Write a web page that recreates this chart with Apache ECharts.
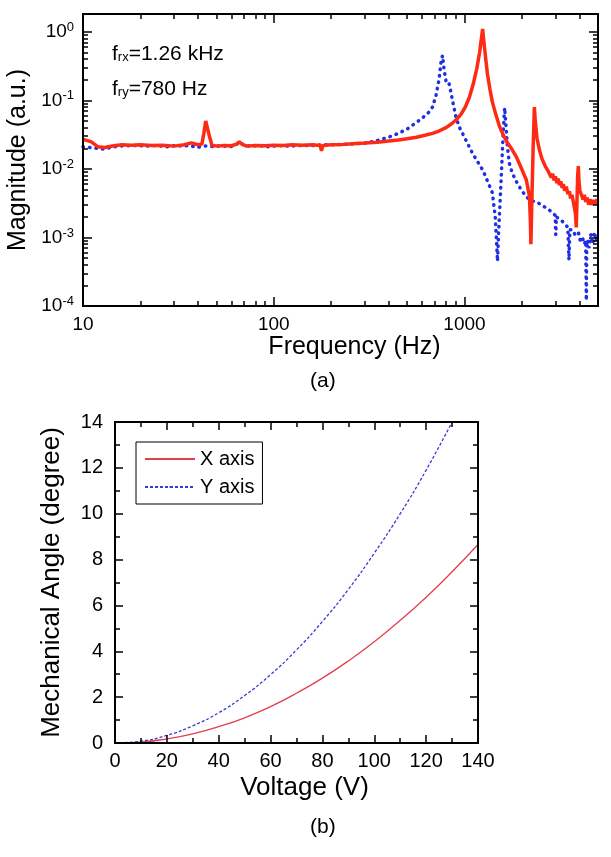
<!DOCTYPE html>
<html>
<head>
<meta charset="utf-8">
<script src="https://cdn.jsdelivr.net/npm/echarts@6/dist/echarts.min.js"></script>
<style>
html, body { margin: 0; padding: 0; background: #fff; }
</style>
</head>
<body>
<div id="chart" style="position:absolute;left:0;top:0;width:611px;height:857px"></div>
<div id="frame" style="position:absolute;left:0;top:0;width:611px;height:857px;pointer-events:none"></div>
<script>
// (a) frequency response, x mode (red) and y mode (blue)
var redFreq = [10, 11, 12, 13, 14.5, 16, 18, 20, 23, 26, 30, 34, 37, 40, 42, 43, 44, 45, 46, 47.5, 51, 55, 60, 64, 66, 68, 72, 80, 90, 100,
    112, 125, 140, 160, 175, 178, 181, 200, 230, 260, 300, 350, 400, 450, 500, 560, 620, 680, 740, 800, 860, 910, 960, 1010, 1060,
    1110, 1160, 1200, 1230, 1245, 1262, 1290, 1320, 1360, 1400, 1460, 1525, 1600, 1680, 1780, 1870, 1980, 2110, 2190, 2215, 2230,
    2250, 2290, 2325, 2350, 2400, 2470, 2550, 2650, 2750, 2800, 2850, 2900, 2950, 3000, 3050, 3100, 3150, 3200, 3250, 3300, 3350,
    3420, 3480, 3550, 3600, 3660, 3720, 3770, 3820, 3855, 3885, 3920, 3953, 3985, 4030, 4100, 4180, 4250, 4320, 4400, 4480, 4550,
    4650, 4750, 4850, 4950, 5000];
var redMag = [0.027, 0.025, 0.021, 0.0205, 0.0218, 0.0225, 0.0222, 0.0225, 0.022, 0.0222, 0.0215, 0.0225, 0.024, 0.0225, 0.023, 0.033, 0.05, 0.047, 0.03, 0.022, 0.0215, 0.022, 0.0218, 0.023, 0.025, 0.023, 0.0215, 0.022, 0.0218, 0.0222,
    0.0219, 0.0225, 0.0222, 0.0225, 0.022, 0.0183, 0.022, 0.0225, 0.0228, 0.0232, 0.0238, 0.0245, 0.0255, 0.0265, 0.0275, 0.029, 0.031, 0.033, 0.036, 0.04, 0.046, 0.053, 0.063, 0.08, 0.11,
    0.17, 0.29, 0.5, 0.85, 1.1, 0.75, 0.42, 0.24, 0.145, 0.095, 0.062, 0.042, 0.031, 0.024, 0.019, 0.015, 0.0105, 0.0069, 0.004, 0.0018, 0.0008,
    0.0025, 0.02, 0.08, 0.05, 0.028, 0.019, 0.014, 0.011, 0.0092, 0.0095, 0.0075, 0.0085, 0.0068, 0.0078, 0.0062, 0.0072, 0.0058, 0.0066, 0.0053, 0.006, 0.0048,
    0.0055, 0.0043, 0.0047, 0.0037, 0.0042, 0.0033, 0.0034, 0.0022, 0.0014, 0.003, 0.008, 0.011, 0.0065, 0.0048, 0.0042, 0.0036, 0.0042, 0.0033, 0.0038, 0.003, 0.0036,
    0.003, 0.0035, 0.0031, 0.0036, 0.0034];

var blueFreq = [10, 12.7, 15.3, 18.3, 21.6, 24.5, 27.5, 30.5, 33.5, 36.5, 39.5, 42.5, 45.5, 49, 53, 58, 62, 66, 70, 76, 82, 88, 95, 105, 120,
    140, 160, 180, 200, 250, 300, 350, 400, 450, 500, 550, 600, 650, 680, 710, 735, 755, 768, 782, 800, 815, 825, 845, 865, 905,
    950, 1000, 1100, 1250, 1400, 1450, 1475, 1490, 1510, 1560, 1600, 1625, 1650, 1680, 1720, 1780, 1900, 2000, 2110, 2250, 2400,
    2550, 2700, 2890, 2990, 3010, 3030, 3200, 3350, 3480, 3530, 3570, 3670, 3800, 3950, 4050, 4150, 4250, 4320, 4340, 4355, 4372,
    4420, 4500, 4600, 4700, 4800, 4900, 5000];
var blueMag = [0.021, 0.0195, 0.0215, 0.022, 0.0215, 0.022, 0.021, 0.022, 0.0215, 0.022, 0.0205, 0.0215, 0.0215, 0.021, 0.022, 0.021, 0.0215, 0.0245, 0.022, 0.0215, 0.022, 0.0215, 0.021, 0.022, 0.0215,
    0.022, 0.022, 0.0225, 0.0225, 0.023, 0.0237, 0.026, 0.029, 0.033, 0.038, 0.046, 0.055, 0.067, 0.08, 0.12, 0.2, 0.38, 0.45, 0.28, 0.19, 0.2, 0.19, 0.14, 0.1, 0.055,
    0.038, 0.029, 0.017, 0.0095, 0.0045, 0.002, 0.0008, 0.00045, 0.0012, 0.008, 0.04, 0.078, 0.042, 0.021, 0.012, 0.0087, 0.006, 0.0048, 0.0039, 0.0034, 0.0033,
    0.0029, 0.0027, 0.0023, 0.0021, 0.0011, 0.002, 0.0018, 0.0016, 0.0014, 0.00047, 0.0013, 0.0013, 0.0011, 0.0012, 0.0009, 0.001, 0.0008, 0.0009, 0.00025, 0.00012, 0.0006,
    0.0009, 0.0007, 0.0011, 0.0008, 0.0012, 0.0009, 0.0011];

// (b) mechanical angle vs voltage
var voltage = [0, 10, 20, 30, 40, 50, 60, 70, 80, 90, 100, 110, 120, 130, 140];
var angleX = [0, 0.04, 0.18, 0.4, 0.71, 1.1, 1.59, 2.17, 2.83, 3.58, 4.42, 5.35, 6.36, 7.47, 8.66];
var angleY = [0, 0.08, 0.33, 0.75, 1.32, 2.07, 2.98, 4.06, 5.3, 6.7, 8.28, 10.0, 11.9, 14.0];

// tick positions (the ones on the box edges are left out, the axis line is there)
var freqMajor = [100, 1000];
var freqMinor = [20, 30, 40, 50, 60, 70, 80, 90, 200, 300, 400, 500, 600, 700, 800, 900, 2000, 3000, 4000];
var magMajor = [1e-3, 1e-2, 1e-1, 1];
var magMinor = [2e-4, 3e-4, 4e-4, 5e-4, 6e-4, 7e-4, 8e-4, 9e-4, 2e-3, 3e-3, 4e-3, 5e-3, 6e-3, 7e-3, 8e-3, 9e-3,
    0.02, 0.03, 0.04, 0.05, 0.06, 0.07, 0.08, 0.09, 0.2, 0.3, 0.4, 0.5, 0.6, 0.7, 0.8, 0.9];

// axis extents in decades
var LX_MIN = 1, LX_MAX = 3.7, LY_MIN = -4, LY_MAX = 0.26;
var FONT = 'Liberation Sans';

function makeGrids() {
    return [
        { left: 83, right: 13, top: 14, bottom: 551, outerBoundsMode: 'none' },
        { left: 115, right: 133, top: 422, bottom: 114, outerBoundsMode: 'none' }
    ];
}
function zip(a, b) {
    return a.map(function (v, i) { return [v, b[i]]; });
}
function lg(arr) {
    return arr.map(function (v) { return Math.round(Math.log10(v) * 10000) / 10000; });
}
function isDecade(v) {
    var l = Math.log10(v);
    return Math.abs(l - Math.round(l)) < 0.01;
}
function tickAxis(pos, grid, min, max, values, len, showLine) {
    return {
        type: 'value', gridIndex: grid, position: pos, min: min, max: max,
        axisLine: { show: showLine, onZero: false, lineStyle: { color: '#000', width: 2 } },
        axisTick: { show: true, inside: true, length: len, customValues: values, lineStyle: { color: '#000', width: 1.5 } },
        axisLabel: { show: false },
        splitLine: { show: false }
    };
}
function frameAxis(pos, grid, min, max, interval) {
    return {
        type: 'value', gridIndex: grid, position: pos, min: min, max: max, interval: interval,
        axisLine: { show: true, onZero: false, lineStyle: { color: '#000', width: 2 } },
        axisTick: { show: true, inside: true, length: 8, lineStyle: { color: '#000', width: 1.5 } },
        minorTick: { show: true, splitNumber: 2, length: 5, lineStyle: { color: '#000', width: 1.5 } },
        axisLabel: { show: false },
        splitLine: { show: false }
    };
}

var myChart = echarts.init(document.getElementById('chart'));
var option = {
    animation: false,
    textStyle: { fontFamily: FONT, color: '#000' },
    title: [
        { text: '(a)', left: 305, top: 366, textStyle: { fontFamily: FONT, fontSize: 21, fontWeight: 'normal', color: '#000' } },
        { text: '(b)', left: 305, top: 812, textStyle: { fontFamily: FONT, fontSize: 21, fontWeight: 'normal', color: '#000' } },
        {
            text: '{b|f}{s|rx}{b|=1.26 kHz}\n{b|f}{s|ry}{b|=780 Hz}', left: 107, top: 32,
            textStyle: {
                fontWeight: 'normal',
                rich: {
                    b: { fontFamily: FONT, fontSize: 21, fontWeight: 'normal', color: '#000', lineHeight: 35 },
                    s: { fontFamily: FONT, fontSize: 13, fontWeight: 'normal', color: '#000', lineHeight: 35, padding: [0, 0, -6, 0] }
                }
            }
        }
    ],
    legend: {
        data: ['X axis', 'Y axis'],
        orient: 'vertical', left: 136, top: 442,
        itemWidth: 50, itemHeight: 2, itemGap: 4,
        padding: [5, 8],
        borderColor: '#000', borderWidth: 1,
        selectedMode: false,
        textStyle: { fontFamily: FONT, fontSize: 20, color: '#000', lineHeight: 24 }
    },
    grid: makeGrids(),
    xAxis: [
        {
            type: 'log', gridIndex: 0, position: 'bottom', min: Math.pow(10, LX_MIN), max: Math.pow(10, LX_MAX),
            name: 'Frequency (Hz)', nameLocation: 'middle', nameGap: 26,
            nameTextStyle: { fontFamily: FONT, fontSize: 25, color: '#000', padding: [0, 0, 0, 28] },
            axisLine: { onZero: false, lineStyle: { color: '#000', width: 2 } },
            axisTick: { show: false },
            axisLabel: {
                margin: 9, fontFamily: FONT, fontSize: 19, color: '#000',
                formatter: function (v) { return isDecade(v) ? String(Math.round(v)) : ''; }
            },
            splitLine: { show: false }
        },
        {
            type: 'value', gridIndex: 1, position: 'bottom', min: 0, max: 140, interval: 20,
            name: 'Voltage (V)', nameLocation: 'middle', nameGap: 32,
            nameTextStyle: { fontFamily: FONT, fontSize: 26, color: '#000', padding: [0, 0, 0, 16] },
            axisLine: { onZero: false, lineStyle: { color: '#000', width: 2 } },
            axisTick: { show: false },
            axisLabel: { margin: 8, fontFamily: FONT, fontSize: 20, color: '#000' },
            splitLine: { show: false }
        }
    ],
    yAxis: [
        {
            type: 'log', gridIndex: 0, position: 'left', min: Math.pow(10, LY_MIN), max: Math.pow(10, LY_MAX),
            name: 'Magnitude (a.u.)', nameLocation: 'middle', nameGap: 50,
            nameTextStyle: { fontFamily: FONT, fontSize: 25, color: '#000' },
            axisLine: { onZero: false, lineStyle: { color: '#000', width: 2 } },
            axisTick: { show: false },
            axisLabel: {
                margin: 9, fontFamily: FONT, color: '#000',
                formatter: function (v) {
                    if (!isDecade(v)) return '';
                    return '{b|10}{s|' + Math.round(Math.log10(v)) + '}';
                },
                rich: {
                    b: { fontFamily: FONT, fontSize: 19, color: '#000', lineHeight: 24 },
                    s: { fontFamily: FONT, fontSize: 13, color: '#000', lineHeight: 24, padding: [0, 0, 9, 0] }
                }
            },
            splitLine: { show: false }
        },
        {
            type: 'value', gridIndex: 1, position: 'left', min: 0, max: 14, interval: 2,
            name: 'Mechanical Angle (degree)', nameLocation: 'middle', nameGap: 50,
            nameTextStyle: { fontFamily: FONT, fontSize: 26, color: '#000' },
            axisLine: { onZero: false, lineStyle: { color: '#000', width: 2 } },
            axisTick: { show: false },
            axisLabel: { margin: 12, fontFamily: FONT, fontSize: 20, color: '#000' },
            splitLine: { show: false }
        }
    ],
    series: [
        {
            name: 'y mode', type: 'line', xAxisIndex: 0, yAxisIndex: 0,
            data: zip(blueFreq, blueMag), symbol: 'none', z: 2,
            lineStyle: { color: '#1f2fe6', width: 3.5, type: [0.5, 6], cap: 'round' }
        },
        {
            name: 'x mode', type: 'line', xAxisIndex: 0, yAxisIndex: 0,
            data: zip(redFreq, redMag), symbol: 'none', z: 3,
            lineStyle: { color: '#ff2a14', width: 3.5 }
        },
        {
            name: 'X axis', type: 'line', xAxisIndex: 1, yAxisIndex: 1,
            data: zip(voltage, angleX), symbol: 'none', smooth: true,
            itemStyle: { color: '#e0404c' },
            lineStyle: { color: '#e0404c', width: 1.3 }
        },
        {
            name: 'Y axis', type: 'line', xAxisIndex: 1, yAxisIndex: 1,
            data: zip(voltage.slice(0, angleY.length), angleY), symbol: 'none', smooth: true,
            itemStyle: { color: '#3a3ad0' },
            lineStyle: { color: '#3a3ad0', width: 1.3, type: [3, 2] }
        }
    ]
};
myChart.setOption(option);

// box frame with inward ticks on all four sides
var frameChart = echarts.init(document.getElementById('frame'));
frameChart.setOption({
    animation: false,
    grid: makeGrids(),
    xAxis: [
        tickAxis('bottom', 0, LX_MIN, LX_MAX, lg(freqMajor), 9, true),
        tickAxis('bottom', 0, LX_MIN, LX_MAX, lg(freqMinor), 5, false),
        tickAxis('top', 0, LX_MIN, LX_MAX, lg(freqMajor), 9, true),
        tickAxis('top', 0, LX_MIN, LX_MAX, lg(freqMinor), 5, false),
        frameAxis('bottom', 1, 0, 140, 20),
        frameAxis('top', 1, 0, 140, 20)
    ],
    yAxis: [
        tickAxis('left', 0, LY_MIN, LY_MAX, lg(magMajor), 9, true),
        tickAxis('left', 0, LY_MIN, LY_MAX, lg(magMinor), 5, false),
        tickAxis('right', 0, LY_MIN, LY_MAX, lg(magMajor), 9, true),
        tickAxis('right', 0, LY_MIN, LY_MAX, lg(magMinor), 5, false),
        frameAxis('left', 1, 0, 14, 2),
        frameAxis('right', 1, 0, 14, 2)
    ],
    series: []
});
</script>
</body>
</html>
